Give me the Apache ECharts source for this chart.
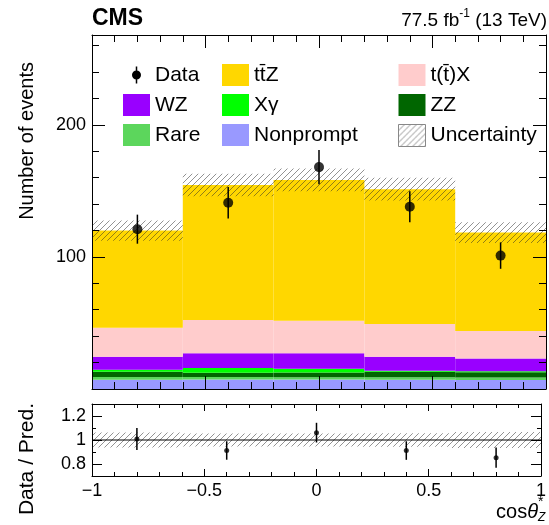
<!DOCTYPE html>
<html>
<head>
<meta charset="utf-8">
<script src="https://cdn.jsdelivr.net/npm/echarts@6/dist/echarts.min.js"></script>
<style>
  html, body { margin: 0; padding: 0; background: #fff; }
  #chart { width: 549px; height: 525px; }
</style>
</head>
<body>
<div id="chart"></div>
<script>
// Bin edges and centres in cos(theta*_Z)
const binEdges = [-1, -0.6, -0.2, 0.2, 0.6, 1];
const binCenters = [-0.8, -0.4, 0, 0.4, 0.8];

// Expected yields per bin, stacked from the bottom up
const nonprompt = [7.0, 7.2, 7.1, 7.0, 6.9];
const rare      = [2.1, 1.8, 1.8, 1.9, 1.9];
const zz        = [4.0, 3.3, 3.5, 4.2, 3.8];
const xgamma    = [1.5, 3.6, 3.0, 0.8, 0.8];
const wz        = [9.9, 11.1, 11.6, 10.6, 9.6];
const ttx       = [21.9, 25.3, 24.7, 24.7, 20.9];
const ttz       = [73.5, 102.2, 106.6, 102.1, 74.5];

// Total prediction uncertainty (absolute, events)
const totalUnc = [7.6, 8.5, 8.6, 8.6, 7.8];

// Observed events and their statistical errors
const dataCounts = [121, 141, 168, 138, 101];
const dataErr    = [11.0, 11.9, 13.0, 11.7, 10.0];

// Axis tick labels
const mainYLabels  = [100, 200];
const ratioYLabels = [0.8, 1, 1.2];

const FONT = '"Liberation Sans", Arial, Helvetica, sans-serif';

function hatchCanvas() {
  const c = document.createElement('canvas');
  c.width = 6; c.height = 6;
  const g = c.getContext('2d');
  g.strokeStyle = 'rgba(40,40,40,0.5)';
  g.lineWidth = 1;
  g.beginPath();
  g.moveTo(0, 6); g.lineTo(6, 0);
  g.moveTo(-1, 1); g.lineTo(1, -1);
  g.moveTo(5, 7); g.lineTo(7, 5);
  g.stroke();
  return c;
}
const hatchFill = { image: hatchCanvas(), repeat: 'repeat' };

const processes = [
  { name: 'Nonprompt', values: nonprompt, color: '#9999ff' },
  { name: 'Rare',      values: rare,      color: '#5cd65c' },
  { name: 'ZZ',        values: zz,        color: '#006600' },
  { name: 'X\u03b3',   values: xgamma,    color: '#00ff00' },
  { name: 'WZ',        values: wz,        color: '#9900ff' },
  { name: 't(t\u0304)X', values: ttx,     color: '#ffcccc' },
  { name: 'tt\u0304Z', values: ttz,       color: '#ffd700' }
];

function rectItem(params, api) {
  const a = api.coord([api.value(0), api.value(3)]);
  const b = api.coord([api.value(1), api.value(2)]);
  return {
    type: 'rect',
    shape: { x: a[0], y: a[1], width: b[0] - a[0], height: b[1] - a[1] },
    style: api.style()
  };
}

function errItem(params, api) {
  const x = api.value(0), y = api.value(1), e = api.value(2);
  const p0 = api.coord([x, y - e]);
  const p1 = api.coord([x, y + e]);
  return {
    type: 'line',
    shape: { x1: p0[0], y1: p0[1], x2: p1[0], y2: p1[1] },
    style: { stroke: '#000', lineWidth: 1.5 }
  };
}

let base = [0, 0, 0, 0, 0];
const stackSeries = processes.map(p => {
  const items = p.values.map((v, i) => [binEdges[i], binEdges[i + 1], base[i], base[i] + v]);
  base = base.map((b, i) => b + p.values[i]);
  return {
    type: 'custom', name: p.name, xAxisIndex: 0, yAxisIndex: 0,
    renderItem: rectItem, data: items, encode: { x: [0, 1], y: [2, 3] },
    itemStyle: { color: p.color }, z: 2, silent: true
  };
});
const total = base;

const uncItems = total.map((t, i) => [binEdges[i], binEdges[i + 1], t - totalUnc[i], t + totalUnc[i]]);
const ratioBand = total.map((t, i) => [binEdges[i], binEdges[i + 1], 1 - totalUnc[i] / t, 1 + totalUnc[i] / t]);
const ratioVals = dataCounts.map((d, i) => [binCenters[i], d / total[i], dataErr[i] / total[i]]);

const axisText = { fontSize: 18, color: '#000', fontFamily: FONT };
const lineStyle = { color: '#000', width: 1 };

function xAxisDef(grid, pos, major, minor, labels) {
  return {
    type: 'value', gridIndex: grid, position: pos, min: -1, max: 1, interval: 0.5, z: 5,
    axisLine: { show: true, onZero: false, lineStyle },
    axisTick: { show: true, inside: true, length: major, lineStyle },
    minorTick: { show: true, splitNumber: 5, length: minor, lineStyle },
    splitLine: { show: false },
    axisLabel: labels ? {
      show: true, margin: 6, ...axisText, showMinLabel: true, showMaxLabel: true,
      formatter: v => (v < 0 ? '\u2212' : '') + Math.abs(v)
    } : { show: false }
  };
}

function yAxisDef(grid, pos, min, max, interval, tickLen, opts) {
  return Object.assign({
    type: 'value', gridIndex: grid, position: pos, min, max, interval, z: 5,
    axisLine: { show: true, onZero: false, lineStyle },
    axisTick: { show: true, inside: true, length: tickLen, lineStyle },
    splitLine: { show: false },
    axisLabel: { show: false }
  }, opts || {});
}

// Longer ticks at labelled values, drawn by a second axis sharing the same side
function majorTicks(values, len) {
  return {
    axisLine: { show: false, onZero: false },
    axisTick: { show: true, inside: true, length: len, lineStyle, customValues: values }
  };
}

const dataIcon = 'path://M0,0L0.01,0L0.01,0.01Z M27,22L26.99,22L26.99,21.99Z ' +
  'M12.75,2.5L14.25,2.5L14.25,6.6L12.75,6.6Z M12.75,15.4L14.25,15.4L14.25,19.5L12.75,19.5Z ' +
  'M9,11A4.5,4.5,0,1,0,18,11A4.5,4.5,0,1,0,9,11Z';

function legendCol(left, items) {
  return {
    left, top: 59, orient: 'vertical', itemWidth: 27, itemHeight: 22, itemGap: 8,
    selectedMode: false, data: items,
    textStyle: { fontSize: 21, color: '#000', fontFamily: FONT }
  };
}

const option = {
  animation: false,
  backgroundColor: '#fff',
  grid: [
    { left: 92, right: 3, top: 35, height: 354 },
    { left: 92, right: 3, top: 404, height: 72 }
  ],
  xAxis: [
    xAxisDef(0, 'bottom', 13, 7, false),
    xAxisDef(0, 'top', 13, 7, false),
    xAxisDef(1, 'bottom', 7, 4, true),
    xAxisDef(1, 'top', 7, 4, false)
  ],
  yAxis: [
    yAxisDef(0, 'left', 0, 268, 20, 7, {
      axisLabel: { show: true, margin: 6, customValues: mainYLabels, ...axisText }
    }),
    yAxisDef(0, 'left', 0, 268, 20, 13, majorTicks([0].concat(mainYLabels), 13)),
    yAxisDef(0, 'right', 0, 268, 20, 7),
    yAxisDef(0, 'right', 0, 268, 20, 13, majorTicks([0].concat(mainYLabels), 13)),
    yAxisDef(1, 'left', 0.7, 1.3, 0.1, 4, {
      axisLabel: { show: true, margin: 6, customValues: ratioYLabels, ...axisText }
    }),
    yAxisDef(1, 'left', 0.7, 1.3, 0.1, 10, majorTicks(ratioYLabels, 10)),
    yAxisDef(1, 'right', 0.7, 1.3, 0.1, 4),
    yAxisDef(1, 'right', 0.7, 1.3, 0.1, 10, majorTicks(ratioYLabels, 10))
  ],
  legend: [
    legendCol(118, [{ name: 'Data', icon: dataIcon }, { name: 'WZ', icon: 'rect' }, { name: 'Rare', icon: 'rect' }]),
    legendCol(217, [{ name: 'tt\u0304Z', icon: 'rect' }, { name: 'X\u03b3', icon: 'rect' }, { name: 'Nonprompt', icon: 'rect' }]),
    legendCol(393, [{ name: 't(t\u0304)X', icon: 'rect' }, { name: 'ZZ', icon: 'rect' },
      { name: 'Uncertainty', icon: 'rect', itemStyle: { borderColor: '#888', borderWidth: 1 } }])
  ],
  series: stackSeries.concat([
    {
      type: 'custom', name: 'Uncertainty', xAxisIndex: 0, yAxisIndex: 0,
      renderItem: rectItem, data: uncItems, encode: { x: [0, 1], y: [2, 3] },
      itemStyle: { color: hatchFill }, z: 3, silent: true
    },
    {
      type: 'custom', name: 'Data', xAxisIndex: 0, yAxisIndex: 0,
      renderItem: errItem, data: dataCounts.map((d, i) => [binCenters[i], d, dataErr[i]]),
      encode: { x: 0, y: 1 }, itemStyle: { color: '#000' }, z: 6, silent: true
    },
    {
      type: 'scatter', name: 'Data', xAxisIndex: 0, yAxisIndex: 0,
      data: dataCounts.map((d, i) => [binCenters[i], d]),
      symbol: 'circle', symbolSize: 10, itemStyle: { color: '#000' }, z: 7, silent: true
    },
    {
      type: 'custom', name: 'ratioBand', xAxisIndex: 2, yAxisIndex: 4,
      renderItem: rectItem, data: ratioBand, encode: { x: [0, 1], y: [2, 3] },
      itemStyle: { color: hatchFill }, z: 3, silent: true
    },
    {
      type: 'line', name: 'unity', xAxisIndex: 2, yAxisIndex: 4,
      data: [[-1, 1], [1, 1]], symbol: 'none', silent: true,
      lineStyle: { color: '#000', width: 1 }, z: 4
    },
    {
      type: 'custom', name: 'ratioErr', xAxisIndex: 2, yAxisIndex: 4,
      renderItem: errItem, data: ratioVals, encode: { x: 0, y: 1 }, z: 6, silent: true
    },
    {
      type: 'scatter', name: 'ratio', xAxisIndex: 2, yAxisIndex: 4,
      data: ratioVals.map(r => [r[0], r[1]]),
      symbol: 'circle', symbolSize: 5, itemStyle: { color: '#000' }, z: 7, silent: true
    }
  ]),
  graphic: [
    { type: 'text', x: 92, y: 19, style: { text: 'CMS', font: 'bold 23px ' + FONT, fill: '#000', align: 'left', verticalAlign: 'middle' } },
    {
      type: 'text', x: 547, y: 19,
      style: {
        text: '{a|77.5 fb}{s|-1}{a| (13 TeV)}', align: 'right', verticalAlign: 'middle', fill: '#000',
        rich: {
          a: { fontSize: 19, fontFamily: FONT, lineHeight: 22, verticalAlign: 'bottom' },
          s: { fontSize: 12, fontFamily: FONT, lineHeight: 22, verticalAlign: 'top' }
        }
      }
    },
    { type: 'text', x: 27, y: 62, rotation: Math.PI / 2,
      style: { text: 'Number of events', fontSize: 20, fontFamily: FONT, fill: '#000', align: 'right', verticalAlign: 'middle' } },
    { type: 'text', x: 27, y: 403, rotation: Math.PI / 2,
      style: { text: 'Data / Pred.', fontSize: 21, fontFamily: FONT, fill: '#000', align: 'right', verticalAlign: 'middle' } },
    {
      type: 'text', x: 538, y: 512,
      style: {
        text: '{c|cos}{t|\u03b8}', align: 'right', verticalAlign: 'middle', fill: '#000',
        rich: {
          c: { fontSize: 20, fontFamily: FONT },
          t: { fontSize: 20, fontFamily: FONT, fontStyle: 'italic' }
        }
      }
    },
    { type: 'text', x: 538, y: 502, style: { text: '*', fontSize: 14, fontFamily: FONT, fill: '#000', align: 'left', verticalAlign: 'middle' } },
    { type: 'text', x: 538, y: 518, style: { text: 'Z', fontSize: 12, fontFamily: FONT, fontStyle: 'italic', fill: '#000', align: 'left', verticalAlign: 'middle' } }
  ]
};

const chart = echarts.init(document.getElementById('chart'), null, { renderer: 'canvas' });
chart.setOption(option);
</script>
</body>
</html>
